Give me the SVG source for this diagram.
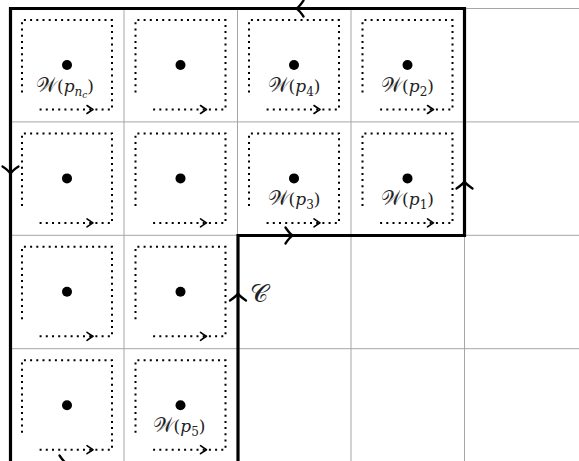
<svg xmlns="http://www.w3.org/2000/svg" xmlns:xlink="http://www.w3.org/1999/xlink" width="579" height="461" viewBox="0 0 579 461">
<style>
.grid{stroke:#a6a6a6;stroke-width:1;fill:none}
.dot{stroke:#000;stroke-width:2;stroke-dasharray:2 4.2;fill:none}
.chev{stroke:#000;stroke-width:1.6;fill:none;stroke-linecap:round;stroke-linejoin:round}
.thick{stroke:#000;stroke-width:3.2;fill:none;stroke-linejoin:miter}
.lbl{font-family:"DejaVu Serif","Liberation Serif",serif;font-size:17px;fill:#222;text-anchor:middle}
.W{font-size:20px}
.it{font-style:italic}
.sub{font-size:12px}
</style>
<defs>
<g id="sq">
<path class="dot" d="M11.5 84 V11.5 H101.5 V101 H28"/>
<path class="chev" d="M76.5 97 Q80 99.5 82.5 101 Q80 102.5 76.5 105"/>
</g>
<path id="ah" d="M-6.5 -8 Q-2.5 -2 0.5 0 Q-2.5 2 -6.5 8" fill="none" stroke="#000" stroke-width="2.3" stroke-linecap="round"/>
</defs>
<rect width="579" height="461" fill="#fff"/>
<g id="grid">
<path class="grid" d="M124 8.5V461 M237.5 8.5V461 M351 8.5V461 M464.5 8.5V461 M10.5 8.5H579 M10.5 121.9H579 M10.5 235.3H579 M10.5 348.7H579"/>
</g>
<g id="cell-r0c0"><use href="#sq" transform="translate(10.5 8.5)"/><circle cx="67" cy="65" r="5"/>
<text class="lbl" x="65" y="92"><tspan class="W">𝒲</tspan>(<tspan class="it">p</tspan><tspan class="it sub" dy="3.5">n</tspan><tspan class="it" font-size="9" dy="2">c</tspan><tspan dy="-5.5">)</tspan></text></g>
<g id="cell-r0c1"><use href="#sq" transform="translate(124 8.5)"/><circle cx="180.5" cy="65" r="5"/></g>
<g id="cell-r0c2"><use href="#sq" transform="translate(237.5 8.5)"/><circle cx="294" cy="65" r="5"/>
<text class="lbl" x="294" y="92"><tspan class="W">𝒲</tspan>(<tspan class="it">p</tspan><tspan class="sub" dy="3.5">4</tspan><tspan dy="-3.5">)</tspan></text></g>
<g id="cell-r0c3"><use href="#sq" transform="translate(351 8.5)"/><circle cx="407.5" cy="65" r="5"/>
<text class="lbl" x="407.5" y="92"><tspan class="W">𝒲</tspan>(<tspan class="it">p</tspan><tspan class="sub" dy="3.5">2</tspan><tspan dy="-3.5">)</tspan></text></g>
<g id="cell-r1c0"><use href="#sq" transform="translate(10.5 121.9)"/><circle cx="67" cy="178.4" r="5"/></g>
<g id="cell-r1c1"><use href="#sq" transform="translate(124 121.9)"/><circle cx="180.5" cy="178.4" r="5"/></g>
<g id="cell-r1c2"><use href="#sq" transform="translate(237.5 121.9)"/><circle cx="294" cy="178.4" r="5"/>
<text class="lbl" x="294" y="205.4"><tspan class="W">𝒲</tspan>(<tspan class="it">p</tspan><tspan class="sub" dy="3.5">3</tspan><tspan dy="-3.5">)</tspan></text></g>
<g id="cell-r1c3"><use href="#sq" transform="translate(351 121.9)"/><circle cx="407.5" cy="178.4" r="5"/>
<text class="lbl" x="407.5" y="205.4"><tspan class="W">𝒲</tspan>(<tspan class="it">p</tspan><tspan class="sub" dy="3.5">1</tspan><tspan dy="-3.5">)</tspan></text></g>
<g id="cell-r2c0"><use href="#sq" transform="translate(10.5 235.3)"/><circle cx="67" cy="291.8" r="5"/></g>
<g id="cell-r2c1"><use href="#sq" transform="translate(124 235.3)"/><circle cx="180.5" cy="291.8" r="5"/></g>
<g id="cell-r3c0"><use href="#sq" transform="translate(10.5 348.7)"/><circle cx="67" cy="405.2" r="5"/></g>
<g id="cell-r3c1"><use href="#sq" transform="translate(124 348.7)"/><circle cx="180.5" cy="405.2" r="5"/>
<text class="lbl" x="179" y="432"><tspan class="W">𝒲</tspan>(<tspan class="it">p</tspan><tspan class="sub" dy="3.5">5</tspan><tspan dy="-3.5">)</tspan></text></g>
<g id="connectors">
<path class="thick" d="M238 464 V235.5 H464.5 V8.5 H10.5 V464"/>
<use href="#ah" transform="translate(297 8.5) rotate(180)"/>
<use href="#ah" transform="translate(10.5 173) rotate(90)"/>
<use href="#ah" transform="translate(66 463.5)"/>
<use href="#ah" transform="translate(238 294) rotate(-90)"/>
<use href="#ah" transform="translate(292 235.5)"/>
<use href="#ah" transform="translate(464.5 182) rotate(-90)"/>
</g>
<g id="label-C"><text class="lbl" x="259" y="302" style="font-size:25px">𝒞</text></g>
</svg>
